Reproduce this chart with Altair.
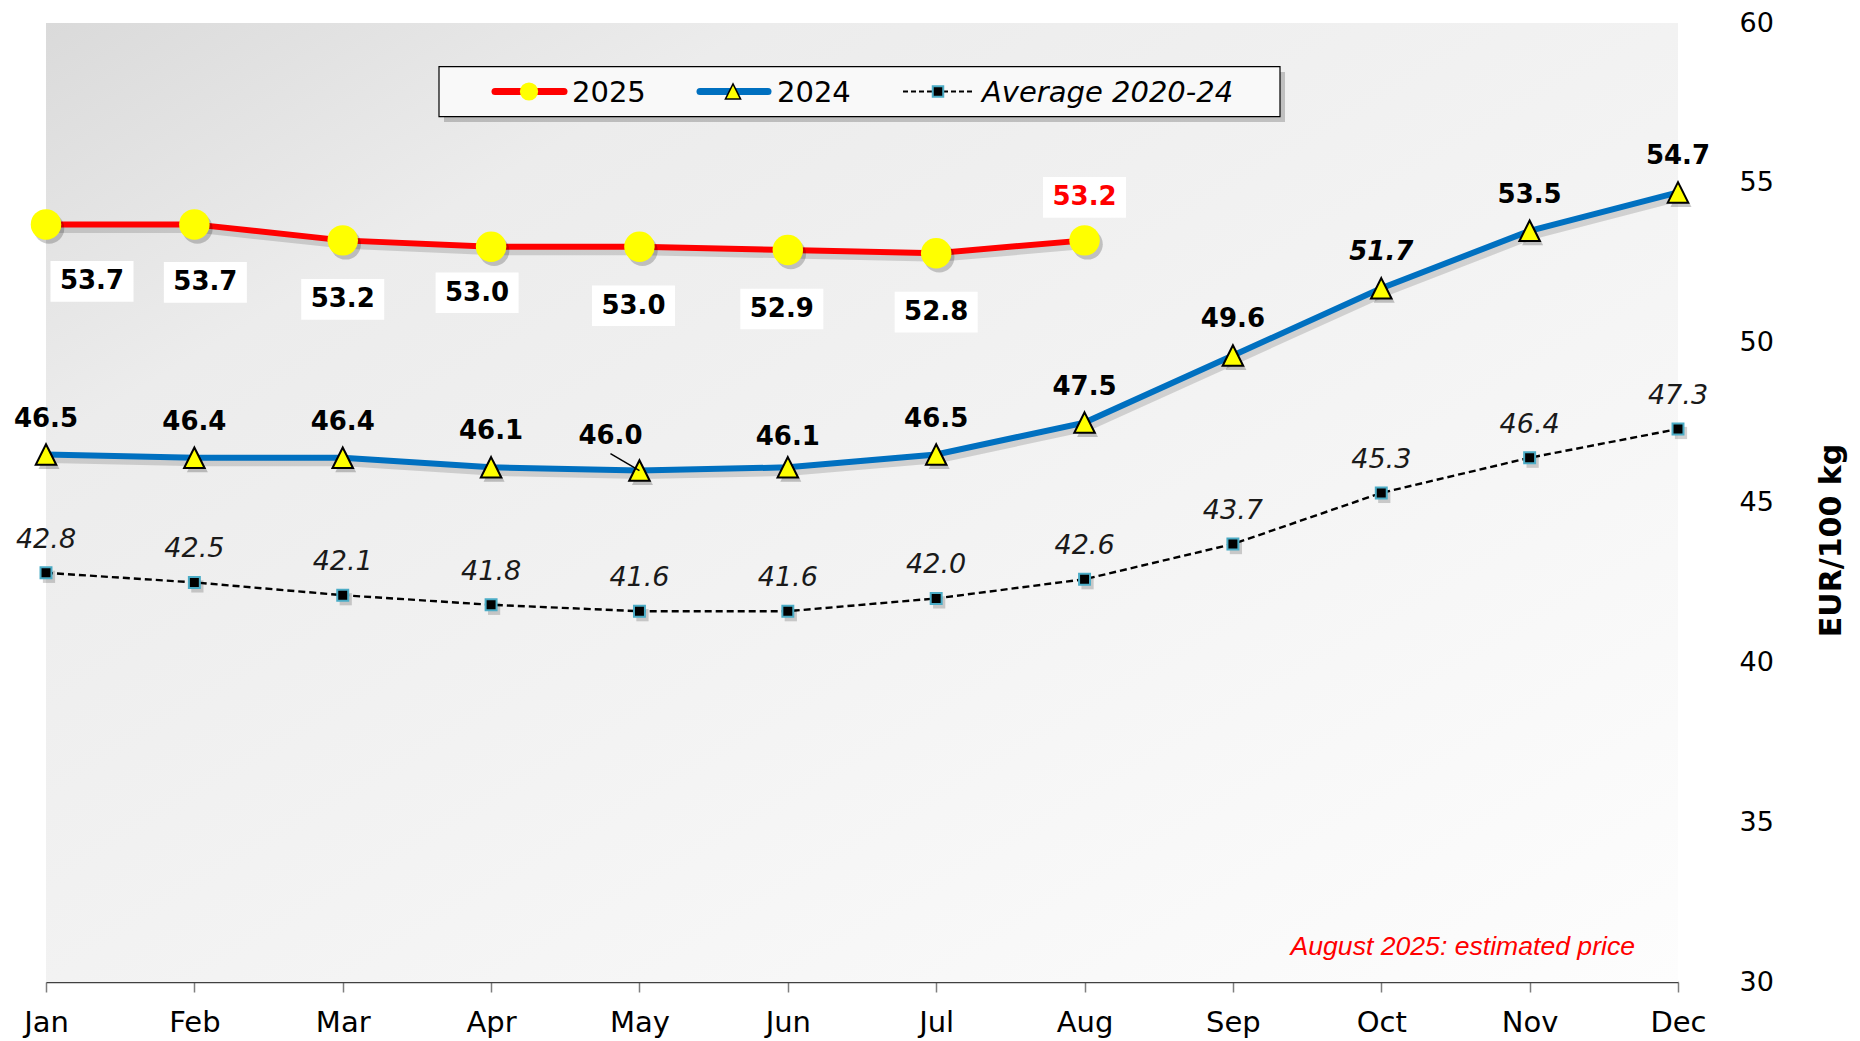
import altair as alt
import pandas as pd

# ---------------- data ----------------
months = ["Jan", "Feb", "Mar", "Apr", "May", "Jun", "Jul", "Aug", "Sep", "Oct", "Nov", "Dec"]
v2025 = [53.7, 53.7, 53.2, 53.0, 53.0, 52.9, 52.8, 53.2]
v2024 = [46.5, 46.4, 46.4, 46.1, 46.0, 46.1, 46.5, 47.5, 49.6, 51.7, 53.5, 54.7]
vavg = [42.8, 42.5, 42.1, 41.8, 41.6, 41.6, 42.0, 42.6, 43.7, 45.3, 46.4, 47.3]
y_ticks = [30, 35, 40, 45, 50, 55, 60]
legend_labels = ["2025", "2024", "Average 2020-24"]
note_text = "August 2025: estimated price"
y_title = "EUR/100 kg"

W, H = 1632, 959


def frame(vals):
    d = pd.DataFrame({"month": months[:len(vals)], "value": vals})
    d["label"] = d["value"].map(lambda v: f"{v:.1f}")
    return d


d25, d24, davg = frame(v2025), frame(v2024), frame(vavg)
one = pd.DataFrame({"k": [0]})

FONT = "DejaVu Sans"
RED, BLUE, YEL, TEAL = "#ff0000", "#0070c0", "#ffff00", "#4bacc6"
TRI = "M0,-1L1,1L-1,1Z"
BOX = "M-1,-0.49H1V0.49H-1Z"

X = alt.X("month:N", sort=months,
          scale=alt.Scale(type="point", padding=0, domain=months),
          axis=alt.Axis(title=None, labelAngle=0, labelFont=FONT, labelFontSize=29,
                        labelColor="#000000", labelPadding=16, tickSize=10,
                        tickColor="#7f7f7f", tickWidth=1.5, domainColor="#404040",
                        domainWidth=1.5, grid=False))
Y = alt.Y("value:Q", scale=alt.Scale(domain=[30, 60], nice=False, zero=False),
          axis=alt.Axis(orient="right", values=y_ticks, grid=False, domain=False,
                        ticks=False, tickSize=0, labelPadding=61, labelFont=FONT,
                        labelFontSize=27, labelColor="#000000", title=y_title,
                        titleFont=FONT, titleFontWeight="bold", titleFontSize=30,
                        titleColor="#000000", titleAngle=270, titleX=153, titleY=517,
                        titleAlign="center", titleBaseline="middle"))


def only(data, mlist):
    return alt.Chart(data).transform_filter(alt.FieldOneOfPredicate(field="month", oneOf=mlist))


layers = []

# plot background gradient
grad = alt.LinearGradient(gradient="linear", x1=0, y1=0, x2=1, y2=1, stops=[
    alt.GradientStop(color="#dadada", offset=0),
    alt.GradientStop(color="#ececec", offset=0.22),
    alt.GradientStop(color="#f3f3f3", offset=0.55),
    alt.GradientStop(color="#fdfdfd", offset=1)])
layers.append(alt.Chart(one).mark_rect(fill=grad).encode(
    x=alt.value(0), x2=alt.value(W), y=alt.value(0), y2=alt.value(H)))

# shadows of lines
for d in (d24, d25):
    layers.append(alt.Chart(d).mark_line(color="#000000", opacity=0.14, strokeWidth=7,
                                         xOffset=3, yOffset=5).encode(x=X, y=Y))

# average line
layers.append(alt.Chart(davg).mark_line(color="#000000", strokeWidth=2.4,
                                        strokeDash=[7, 4]).encode(x=X, y=Y))
layers.append(alt.Chart(davg).mark_point(shape="square", filled=True, fill="#000000",
                                         opacity=0.18, size=150, xOffset=3, yOffset=4).encode(x=X, y=Y))
layers.append(alt.Chart(davg).mark_point(shape="square", filled=True, fill="#000000",
                                         stroke=TEAL, strokeWidth=2, size=120,
                                         opacity=1).encode(x=X, y=Y))

# 2024 line
layers.append(alt.Chart(d24).mark_line(color=BLUE, strokeWidth=6).encode(x=X, y=Y))
# 2025 line
layers.append(alt.Chart(d25).mark_line(color=RED, strokeWidth=6).encode(x=X, y=Y))

# marker shadows
layers.append(alt.Chart(d24).mark_point(shape=TRI, filled=True, fill="#000000", opacity=0.22,
                                        size=440, xOffset=3, yOffset=4).encode(x=X, y=Y))
layers.append(alt.Chart(d25).mark_point(shape="circle", filled=True, fill="#000000", opacity=0.2,
                                        size=930, xOffset=3, yOffset=4).encode(x=X, y=Y))
# markers
layers.append(alt.Chart(d24).mark_point(shape=TRI, filled=True, fill=YEL, stroke="#000000",
                                        strokeWidth=2, size=420, opacity=1).encode(x=X, y=Y))
layers.append(alt.Chart(d25).mark_point(shape="circle", filled=True, fill=YEL, size=930,
                                        opacity=1).encode(x=X, y=Y))

# average labels
layers.append(alt.Chart(davg).mark_text(font=FONT, fontStyle="italic", fontSize=27,
                                        color="#1a1a1a", dy=-33, baseline="middle").encode(
    x=X, y=Y, text="label:N"))

# 2024 labels
normal24 = [m for m in months if m not in ("May", "Jun", "Oct")]
layers.append(only(d24, normal24).mark_text(font=FONT, fontWeight="bold", fontSize=26,
                                            color="#000000", dy=-36, baseline="middle").encode(
    x=X, y=Y, text="label:N"))
layers.append(only(d24, ["Jun"]).mark_text(font=FONT, fontWeight="bold", fontSize=26,
                                           color="#000000", dy=-30, baseline="middle").encode(
    x=X, y=Y, text="label:N"))
layers.append(only(d24, ["Oct"]).mark_text(font=FONT, fontWeight="bold", fontStyle="italic",
                                           fontSize=26, color="#000000", dy=-36,
                                           baseline="middle").encode(x=X, y=Y, text="label:N"))
layers.append(only(d24, ["May"]).mark_text(font=FONT, fontWeight="bold", fontSize=26,
                                           color="#000000", dx=-29, dy=-35,
                                           baseline="middle").encode(x=X, y=Y, text="label:N"))
layers.append(only(d24, ["May"]).mark_rule(color="#000000", strokeWidth=1.5,
                                           x2Offset=-29, y2Offset=-17).encode(
    x=X, y=Y, x2="month:N", y2="value:Q"))


# 2025 labels in white boxes
def box_label(mlist, dx, dy, color="#000000"):
    sub = only(d25, mlist)
    return [
        sub.mark_point(shape=BOX, filled=True, fill="#ffffff", opacity=1, size=6889,
                       xOffset=dx, yOffset=dy).encode(x=X, y=Y),
        sub.mark_text(font=FONT, fontWeight="bold", fontSize=26, color=color, dx=dx, dy=dy,
                      baseline="middle").encode(x=X, y=Y, text="label:N"),
    ]


layers += box_label(["Jan"], 46, 57)
layers += box_label(["Feb"], 11, 58)
layers += box_label(["Mar", "Jul"], 0, 59)
layers += box_label(["May", "Jun"], -6, 59)
layers += box_label(["Apr"], -14, 46)
layers += box_label(["Aug"], 0, -43, RED)

# annotation
layers.append(alt.Chart(one).mark_text(align="right", baseline="alphabetic",
                                       font="Liberation Sans", fontStyle="italic",
                                       fontSize=26.6, color=RED).encode(
    x=alt.value(1589), y=alt.value(932), text=alt.value(note_text)))

# ---------------- legend (drawn) ----------------
LY = 68.5
layers.append(alt.Chart(one).mark_rect(fill="#000000", opacity=0.2).encode(
    x=alt.value(398), x2=alt.value(1239), y=alt.value(49), y2=alt.value(99)))
layers.append(alt.Chart(one).mark_rect(fill="#f9f9f9", stroke="#000000", strokeWidth=1.2).encode(
    x=alt.value(393), x2=alt.value(1234), y=alt.value(43.7), y2=alt.value(93.7)))
# 2025
layers.append(alt.Chart(one).mark_rule(color=RED, strokeWidth=7, strokeCap="round").encode(
    x=alt.value(449), x2=alt.value(518), y=alt.value(LY)))
layers.append(alt.Chart(one).mark_point(shape="circle", filled=True, fill=YEL, size=330,
                                        opacity=1).encode(x=alt.value(483), y=alt.value(LY)))
# 2024
layers.append(alt.Chart(one).mark_rule(color=BLUE, strokeWidth=7, strokeCap="round").encode(
    x=alt.value(654), x2=alt.value(722), y=alt.value(LY)))
layers.append(alt.Chart(one).mark_point(shape=TRI, filled=True, fill=YEL, stroke="#000000",
                                        strokeWidth=1.5, size=230, opacity=1).encode(
    x=alt.value(687), y=alt.value(LY)))
# average
layers.append(alt.Chart(one).mark_rule(color="#000000", strokeWidth=2, strokeDash=[5, 3]).encode(
    x=alt.value(857), x2=alt.value(927), y=alt.value(LY)))
layers.append(alt.Chart(one).mark_point(shape="square", filled=True, fill="#000000", stroke=TEAL,
                                        strokeWidth=2, size=110, opacity=1).encode(
    x=alt.value(892), y=alt.value(LY)))
for txt, xpos, style in zip(legend_labels, [526, 731, 936], ["normal", "normal", "italic"]):
    layers.append(alt.Chart(one).mark_text(align="left", baseline="alphabetic", font=FONT,
                                           fontSize=29, fontStyle=style, color="#000000").encode(
        x=alt.value(xpos), y=alt.value(78.7), text=alt.value(txt)))

chart = alt.layer(*layers).properties(
    width=W, height=H,
    padding={"left": 38, "top": 15, "right": 170, "bottom": 56},
    autosize=alt.AutoSizeParams(type="none"),
    background="#ffffff",
).configure_view(strokeWidth=0)

chart.save("out.html", embed_options={"renderer": "svg", "actions": False})
